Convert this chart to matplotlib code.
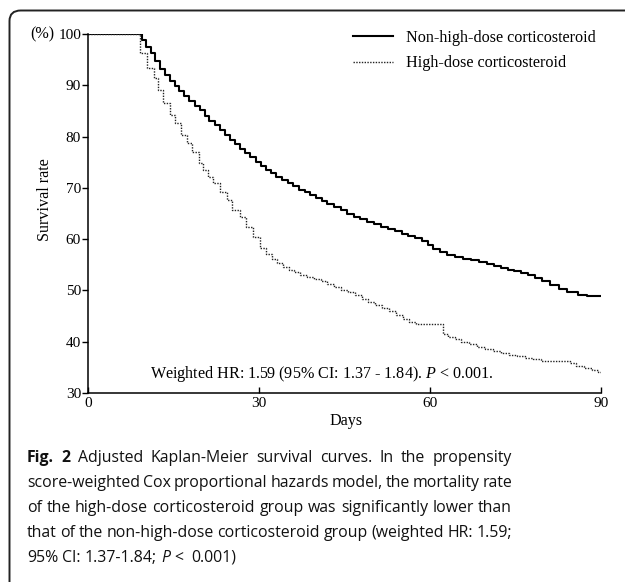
import matplotlib
matplotlib.use("Agg")
import matplotlib.pyplot as plt
from matplotlib.patches import FancyBboxPatch

# step points: (day, survival %)
non_hd_days = [0, 9.4, 10.2, 11.0, 11.8, 12.6, 13.5, 14.4, 15.2, 16.0, 16.9, 17.8, 18.7, 19.6,
               20.5, 21.3, 22.2, 23.1, 24.0, 24.9, 25.8, 26.7, 27.6, 28.5, 29.4, 30.3, 31.2,
               32.1, 33.0, 34.0, 35.0, 36.0, 37.0, 38.0, 39.0, 40.0, 41.0, 42.0, 43.2, 44.3,
               45.5, 46.6, 47.8, 49.0, 50.2, 51.4, 52.6, 53.8, 55.0, 56.2, 57.4, 58.6, 59.6,
               60.6, 61.8, 63.0, 64.4, 65.8, 67.2, 68.6, 70.0, 71.2, 72.4, 73.6, 74.8, 76.0,
               77.2, 78.4, 79.6, 81.0, 82.6, 84.0, 86.0, 87.5, 90]
non_hd_surv = [100, 98.8, 97.5, 96.2, 94.8, 93.2, 92.0, 90.8, 89.8, 88.9, 87.9, 86.9, 86.0, 85.1,
               84.1, 83.1, 82.2, 81.3, 80.3, 79.4, 78.5, 77.6, 76.8, 76.0, 75.1, 74.2, 73.5,
               72.9, 72.2, 71.6, 71.0, 70.3, 69.6, 69.1, 68.6, 68.0, 67.4, 66.9, 66.3, 65.7,
               65.0, 64.4, 63.9, 63.4, 62.9, 62.4, 62.0, 61.6, 61.1, 60.6, 60.2, 59.6, 58.8,
               58.0, 57.5, 57.0, 56.6, 56.2, 55.9, 55.6, 55.2, 54.8, 54.4, 54.0, 53.7, 53.4,
               53.0, 52.4, 51.8, 51.0, 50.2, 49.6, 49.2, 48.9, 48.9]
hd_days = [0, 9.1, 10.3, 11.5, 12.3, 13.2, 14.4, 15.3, 16.4, 17.3, 18.2, 19.4, 20.2, 21.1, 22.0,
           23.2, 24.3, 25.2, 26.7, 27.8, 29.0, 30.2, 31.2, 32.2, 33.2, 34.2, 35.2, 36.2, 37.2,
           38.4, 39.6, 40.8, 42.0, 43.2, 44.4, 45.6, 46.8, 48.0, 49.2, 50.4, 51.6, 52.8, 54.0,
           55.2, 56.4, 57.6, 62.3, 63.2, 64.4, 65.4, 66.8, 68.2, 69.6, 71.0, 72.4, 73.8, 75.2,
           76.6, 78.0, 79.4, 84.6, 85.6, 87.0, 88.4, 89.4, 90]
hd_surv = [100, 96.3, 93.4, 91.4, 89.1, 86.5, 84.2, 82.6, 80.3, 78.7, 77.0, 74.8, 73.5, 72.1, 70.9,
           69.2, 67.6, 65.7, 64.3, 62.4, 60.4, 58.3, 57.2, 56.2, 55.3, 54.6, 54.0, 53.5, 53.1,
           52.7, 52.3, 51.9, 51.3, 50.7, 50.1, 49.6, 49.1, 48.4, 47.8, 47.2, 46.5, 45.9, 45.2,
           44.5, 43.8, 43.5, 41.6, 41.0, 40.5, 39.9, 39.5, 39.0, 38.6, 38.2, 37.8, 37.5, 37.2,
           36.9, 36.6, 36.2, 35.8, 35.3, 34.9, 34.5, 34.1, 34.1]
assert len(non_hd_days) == len(non_hd_surv) and len(hd_days) == len(hd_surv)

x_ticks = [0, 30, 60, 90]
y_ticks = [30, 40, 50, 60, 70, 80, 90, 100]
series_labels = ["Non-high-dose corticosteroid", "High-dose corticosteroid"]
hr_note = "Weighted HR: 1.59 (95% CI: 1.37 - 1.84). $P$ < 0.001."

caption = [
    [("Fig.", "bold"), ("2", "bold"), "Adjusted", "Kaplan-Meier", "survival", "curves.", "In", "the", "propensity"],
    "score-weighted Cox proportional hazards model, the mortality rate".split(),
    "of the high-dose corticosteroid group was significantly lower than".split(),
    "that of the non-high-dose corticosteroid group (weighted HR: 1.59;".split(),
    ["95%", "CI:", "1.37-1.84;", ("P", "italic"), "<", "", "0.001)"],
]

SERIF = "Liberation Serif"
plt.rcParams["font.family"] = SERIF
plt.rcParams["mathtext.fontset"] = "custom"
plt.rcParams["mathtext.rm"] = SERIF
plt.rcParams["mathtext.it"] = SERIF + ":italic"
FS = 11.6
TICK_FS = 11
W, H = 625, 582

fig = plt.figure(figsize=(W / 100, H / 100), dpi=100)
fig.patch.set_facecolor("white")

# rounded frame that runs off the right and bottom edge
frame = FancyBboxPatch((9.5 / W, -0.05), 1.2, 1.05 - 10.5 / H,
                       boxstyle="round,pad=0,rounding_size=0.018",
                       transform=fig.transFigure, fill=False, lw=1.4, ec="#222222")
fig.add_artist(frame)

ax = fig.add_axes([88 / W, 189 / H, 513 / W, 359 / H])
ax.step(non_hd_days, non_hd_surv, where="post", color="black", lw=1.5,
        label=series_labels[0])
ax.step(hd_days, hd_surv, where="post", color="#222222", lw=1.0, ls=(0, (1, 1)),
        label=series_labels[1])

ax.set_xlim(0, 90)
ax.set_ylim(30, 100)
ax.set_xticks(x_ticks)
ax.set_yticks(y_ticks)
for s in ["top", "right"]:
    ax.spines[s].set_visible(False)
for s in ["left", "bottom"]:
    ax.spines[s].set_linewidth(1.1)
ax.tick_params(axis="x", direction="in", length=4, width=1, pad=3, labelsize=TICK_FS)
ax.tick_params(axis="y", direction="out", length=4, width=1, pad=1, labelsize=TICK_FS)

ax.legend(loc="upper left", bbox_to_anchor=(353 / W, 1 - 29.5 / H),
          bbox_transform=fig.transFigure, frameon=False, fontsize=FS,
          handlelength=2.5, handletextpad=0.8, labelspacing=0.62,
          borderpad=0, borderaxespad=0)

ax.text(10.9, 33.8, hr_note, fontsize=FS, va="center", ha="left")
fig.text(42 / W, 1 - 34 / H, "(%)", fontsize=FS, ha="center", va="center")
fig.text(45 / W, 1 - 200 / H, "Survival rate", fontsize=FS, rotation=90,
         ha="center", va="center")
fig.text(346 / W, 1 - 421 / H, "Days", fontsize=FS, ha="center", va="center")

# justified caption, word by word
CAP_FONT = "Open Sans"
CAP_FS = 11.4
x0, x1 = 27, 512
baselines = [462, 487, 512, 537, 562]
r = fig.canvas.get_renderer()
sp_a = fig.text(0, 0, "a a", family=CAP_FONT, fontsize=CAP_FS)
sp_b = fig.text(0, 0, "aa", family=CAP_FONT, fontsize=CAP_FS)
space = sp_a.get_window_extent(r).width - sp_b.get_window_extent(r).width
sp_a.remove()
sp_b.remove()

for i, (words, base) in enumerate(zip(caption, baselines)):
    texts = []
    for w in words:
        txt, style = (w if isinstance(w, tuple) else (w, "normal"))
        kw = dict(family=CAP_FONT, fontsize=CAP_FS, va="baseline", ha="left", color="#111111")
        if style == "bold":
            kw["fontweight"] = "bold"
        if style == "italic":
            kw["style"] = "italic"
        texts.append(fig.text(0, 1 - base / H, txt, **kw))
    widths = [t.get_window_extent(r).width if t.get_text() else 0 for t in texts]
    last = i == len(caption) - 1
    gap = space if last else max((x1 - x0 - sum(widths)) / (len(texts) - 1), 0.7 * space)
    x = x0
    for t, w in zip(texts, widths):
        t.set_x(x / W)
        x += w + gap

fig.savefig("out.png", dpi=100)
